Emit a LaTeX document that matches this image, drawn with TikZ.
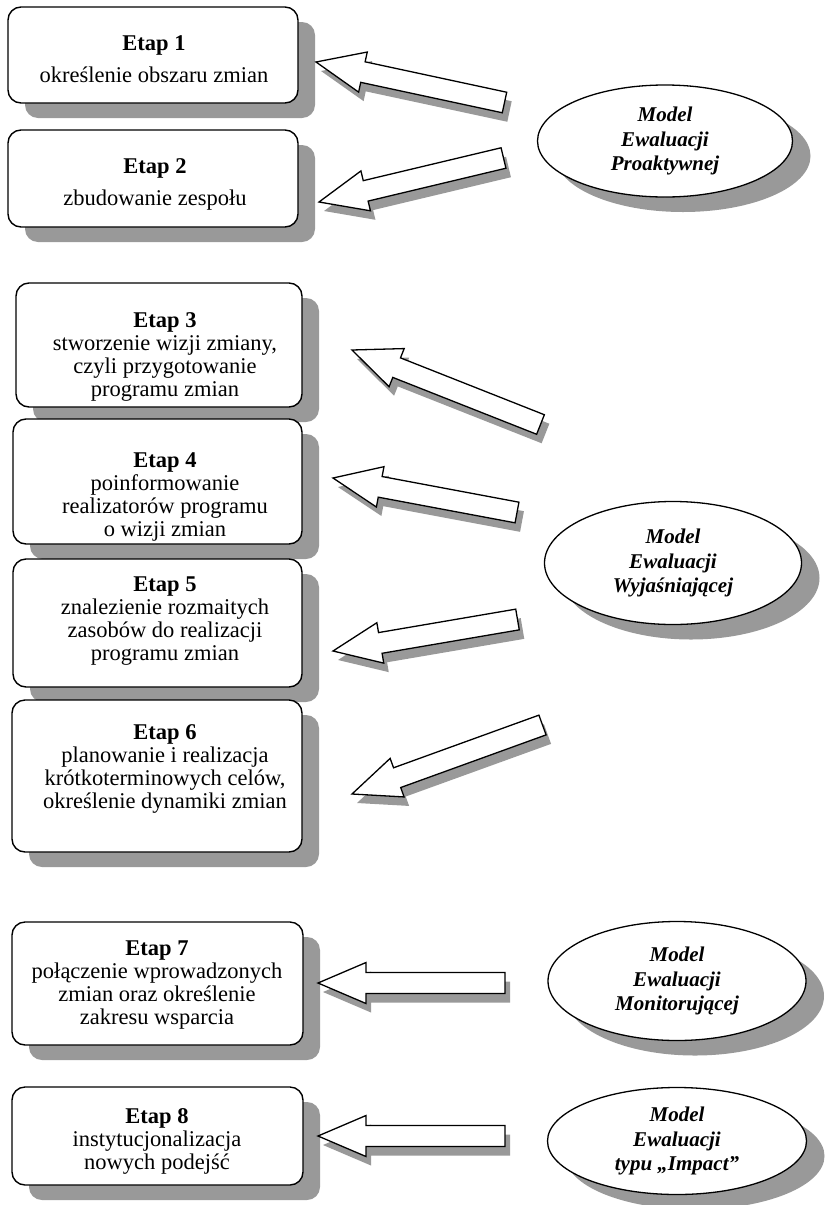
\documentclass[tikz,border=0pt]{standalone}
\usepackage{fontspec}
\setmainfont{Liberation Serif}
\usetikzlibrary{calc,shadows,shapes.geometric}
\definecolor{shadowgray}{gray}{0.6}
\newcommand\blockarrow[2]{%
  \coordinate (H) at ($(#1)!48pt!(#2)$);
  \fill[arrowshadow] (#1) -- ($(H)!20.5pt!90:(#2)$) -- ($(H)!10.5pt!90:(#2)$)
     -- ($(#2)!10.5pt!-90:(#1)$) -- ($(#2)!10.5pt!90:(#1)$)
     -- ($(H)!10.5pt!-90:(#2)$) -- ($(H)!20.5pt!-90:(#2)$) -- cycle;
  \draw[blockline] (#1) -- ($(H)!20.5pt!90:(#2)$) -- ($(H)!10.5pt!90:(#2)$)
     -- ($(#2)!10.5pt!-90:(#1)$) -- ($(#2)!10.5pt!90:(#1)$)
     -- ($(H)!10.5pt!-90:(#2)$) -- ($(H)!20.5pt!-90:(#2)$) -- cycle;
}
\tikzset{
  stagebox/.style={draw=black, line width=1.4pt, rounded corners=13pt, fill=white,
    inner sep=0pt,
    drop shadow={shadow xshift=17pt, shadow yshift=-15pt, fill=shadowgray, opacity=1}},
  stagetext/.style={align=center, inner sep=0pt, anchor=north,
    font=\fontsize{22.5}{23}\selectfont},
  model/.style={ellipse, draw=black, line width=1.3pt, fill=white, inner sep=0pt,
    align=center, font=\fontsize{21}{24.5}\selectfont\bfseries\itshape,
    drop shadow={shadow xshift=18pt, shadow yshift=-15pt, fill=shadowgray, opacity=1}},
  arrowshadow/.style={fill=shadowgray, transform canvas={shift={(5pt,-9pt)}}},
  blockline/.style={draw=black, line width=1.3pt, fill=white, line join=miter},
}
\begin{document}
\begin{tikzpicture}[x=1pt,y=-1pt]
\useasboundingbox (0,0) rectangle (826,1205);
\fill[white] (0,0) rectangle (826,1205);

% stage boxes
\node[stagebox, minimum width=290pt, minimum height=96pt]  (b1) at (153,55) {};
\node[stagebox, minimum width=290pt, minimum height=97pt]  (b2) at (153,178.5) {};
\node[stagebox, minimum width=286pt, minimum height=124pt] (b3) at (159,345) {};
\node[stagebox, minimum width=289pt, minimum height=125pt] (b4) at (157.5,481.5) {};
\node[stagebox, minimum width=289pt, minimum height=128pt] (b5) at (157.5,623) {};
\node[stagebox, minimum width=290pt, minimum height=152pt] (b6) at (157,776) {};
\node[stagebox, minimum width=291pt, minimum height=123pt] (b7) at (157.5,983.5) {};
\node[stagebox, minimum width=291pt, minimum height=98pt]  (b8) at (157.5,1136) {};

% stage texts
\node[stagetext] (t1) at (154,35) {\textbf{Etap 1}\\[9pt]określenie obszaru zmian};
\node[stagetext] (t2) at (155,158) {\textbf{Etap 2}\\[9pt]zbudowanie zespołu};
\node[stagetext] (t3) at (165,312) {\textbf{Etap 3}\\stworzenie wizji zmiany,\\czyli przygotowanie\\programu zmian};
\node[stagetext] (t4) at (165,452) {\textbf{Etap 4}\\poinformowanie\\realizatorów programu\\o wizji zmian};
\node[stagetext] (t5) at (165,577) {\textbf{Etap 5}\\znalezienie rozmaitych\\zasobów do realizacji\\programu zmian};
\node[stagetext] (t6) at (165,724) {\textbf{Etap 6}\\planowanie i realizacja\\krótkoterminowych celów,\\określenie dynamiki zmian};
\node[stagetext] (t7) at (157,941) {\textbf{Etap 7}\\połączenie wprowadzonych\\zmian oraz określenie\\zakresu wsparcia};
\node[stagetext] (t8) at (157,1108) {\textbf{Etap 8}\\instytucjonalizacja\\nowych podejść};

% models
\node[model, minimum width=255pt, minimum height=112pt] (m1) at (665,141) {Model\\Ewaluacji\\Proaktywnej};
\node[model, minimum width=257pt, minimum height=123pt] (m2) at (673,563) {Model\\Ewaluacji\\Wyjaśniającej};
\node[model, minimum width=258pt, minimum height=119pt] (m3) at (677,981) {Model\\Ewaluacji\\Monitorującej};
\node[model, minimum width=259pt, minimum height=107pt] (m4) at (677,1141) {Model\\Ewaluacji\\typu „Impact”};

% arrow end points
\coordinate (a1tip) at (316,62);    \coordinate (a1tail) at (504.5,102.5);
\coordinate (a2tip) at (319,202);   \coordinate (a2tail) at (503.5,158);
\coordinate (a3tip) at (352,350);   \coordinate (a3tail) at (540.5,424.5);
\coordinate (a4tip) at (333,478);   \coordinate (a4tail) at (517,512.5);
\coordinate (a5tip) at (333,651);   \coordinate (a5tail) at (517.5,619.5);
\coordinate (a6tip) at (352,794);   \coordinate (a6tail) at (542.5,725);
\coordinate (a7tip) at (318,983);   \coordinate (a7tail) at (505,983);
\coordinate (a8tip) at (318,1136);  \coordinate (a8tail) at (505,1136);

\blockarrow{a1tip}{a1tail}
\blockarrow{a2tip}{a2tail}
\blockarrow{a3tip}{a3tail}
\blockarrow{a4tip}{a4tail}
\blockarrow{a5tip}{a5tail}
\blockarrow{a6tip}{a6tail}
\blockarrow{a7tip}{a7tail}
\blockarrow{a8tip}{a8tail}
\end{tikzpicture}
\end{document}
